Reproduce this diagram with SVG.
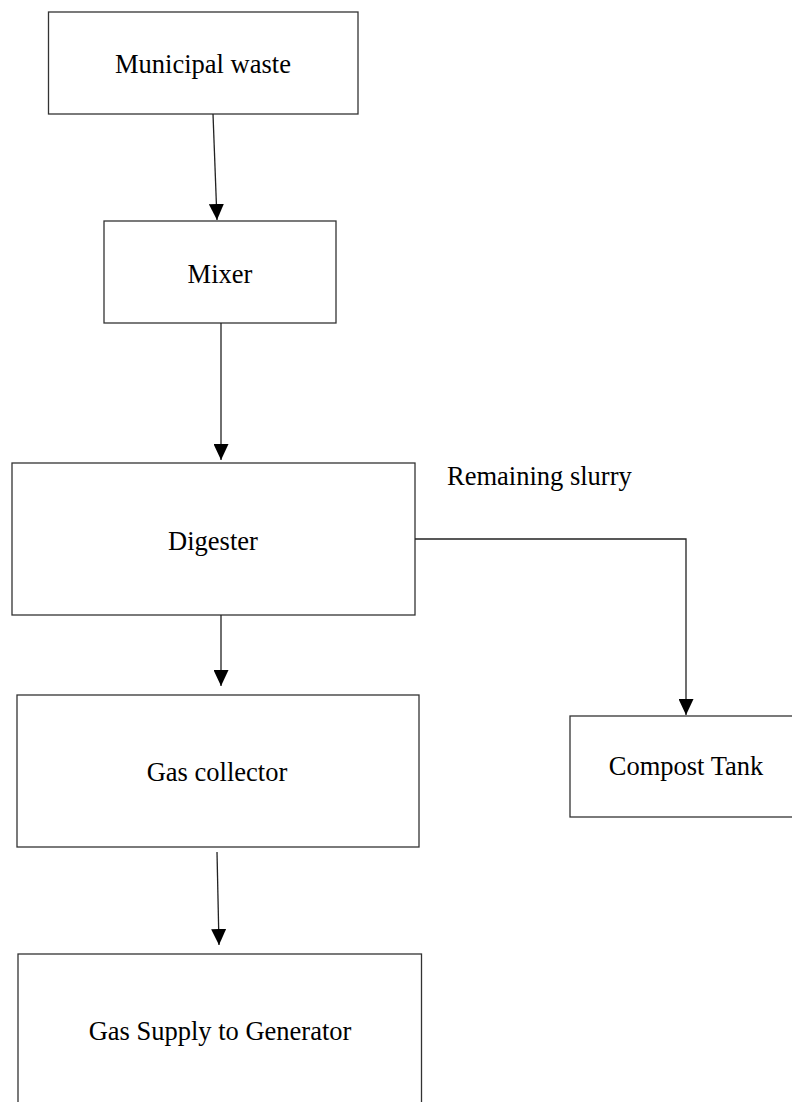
<svg xmlns="http://www.w3.org/2000/svg" width="792" height="1102" viewBox="0 0 792 1102">
<style>
.box{fill:#fff;stroke:#333;stroke-width:1.3}
.lbl{font-family:"Liberation Serif","Times New Roman",serif;font-size:26.5px;fill:#000}
.conn{fill:none;stroke:#222;stroke-width:1.3}
</style>
<defs>
<marker id="ah" viewBox="0 0 16 15" refX="16" refY="7.5" markerWidth="16" markerHeight="15" markerUnits="userSpaceOnUse" orient="auto">
<path d="M0,0 L16,7.5 L0,15 Z" fill="#000"/>
</marker>
</defs>
<rect width="792" height="1102" fill="#fff"/>
<g id="n1"><rect class="box" x="48.5" y="12" width="309.5" height="102"/><text class="lbl" x="203" y="73" text-anchor="middle">Municipal waste</text></g>
<g id="n2"><rect class="box" x="104" y="221" width="232" height="102"/><text class="lbl" x="220" y="283" text-anchor="middle">Mixer</text></g>
<g id="n3"><rect class="box" x="12" y="463" width="403" height="152"/><text class="lbl" x="213" y="550" text-anchor="middle">Digester</text></g>
<g id="n4"><rect class="box" x="17" y="695" width="402" height="152"/><text class="lbl" x="217" y="781" text-anchor="middle">Gas collector</text></g>
<g id="n5"><rect class="box" x="18" y="954" width="403.5" height="160"/><text class="lbl" x="220" y="1040" text-anchor="middle">Gas Supply to Generator</text></g>
<g id="n6"><rect class="box" x="570" y="716" width="240" height="101"/><text class="lbl" x="686" y="775" text-anchor="middle">Compost Tank</text></g>
<g id="connectors">
<path class="conn" d="M213,114 L217,220" marker-end="url(#ah)"/>
<path class="conn" d="M221,323 L221,460" marker-end="url(#ah)"/>
<path class="conn" d="M221,615 L221,686" marker-end="url(#ah)"/>
<path class="conn" d="M217,852 L219,945" marker-end="url(#ah)"/>
<path class="conn" d="M415,539 L686,539 L686,715" marker-end="url(#ah)"/>
<text class="lbl" x="447" y="485">Remaining slurry</text>
</g>
</svg>
